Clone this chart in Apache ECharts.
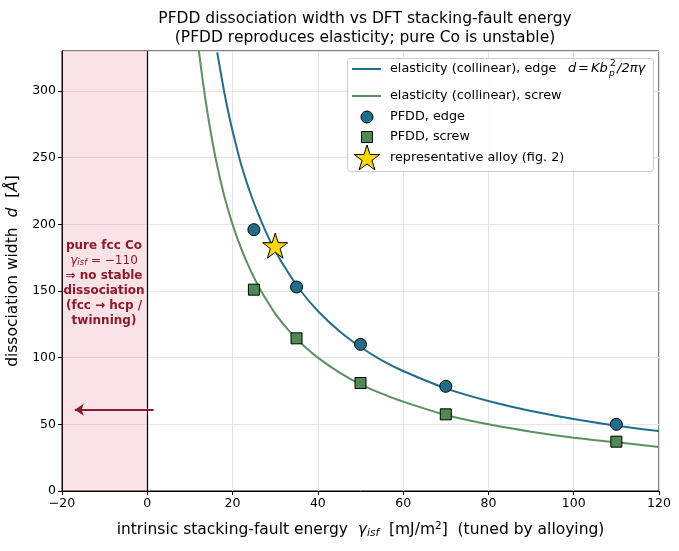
<!DOCTYPE html>
<html>
<head>
<meta charset="utf-8">
<script src="https://cdn.jsdelivr.net/npm/echarts@6/dist/echarts.min.js"></script>
<style>
  html, body { margin: 0; padding: 0; background: #fff; }
  #main { width: 679px; height: 551px; }
</style>
</head>
<body>
<div id="main"></div>
<script>
// elasticity curves
const edgeGamma = [16.4, 17, 18, 19, 20, 22, 24, 26, 28, 30, 33, 36, 40, 45, 50, 55, 60, 70, 80, 90, 100, 110, 120];
const edgeD = [329, 318, 300, 284, 270, 245, 225, 208, 193, 180, 164, 150, 135, 120, 108, 98, 90, 77, 67.5, 60, 54, 49, 45];
const screwGamma = [12.1, 13, 14, 15, 16, 18, 20, 22, 24, 26, 28, 30, 33, 36, 40, 45, 50, 55, 60, 70, 80, 90, 100, 110, 120];
const screwD = [330, 308, 286, 267, 250, 222, 200, 182, 167, 154, 143, 133, 121, 111, 100, 89, 80, 73, 67, 57, 50, 44.5, 40, 36.5, 33];

// PFDD points
const pfddGamma = [25, 35, 50, 70, 110];
const pfddEdge = [196, 153, 110, 78.5, 50];
const pfddScrew = [151, 114.5, 81, 57.5, 37];

// representative alloy
const alloyPoint = [30, 184];

// unstable region / arrow
const unstableRange = [-20, 0];
const arrowFrom = [1.5, 61];
const arrowTo = [-17, 61];

const xTicks = { min: -20, max: 120, step: 20 };
const yTicks = { min: 0, max: 330, step: 50 };

const C_EDGE = '#1f6e8c';
const C_SCREW = '#5b9160';
const C_SQ = '#4f8a55';
const C_RED = '#8b1a2c';
const FONT = 'DejaVu Sans';
const LEG_FONT = '12.8px "DejaVu Sans"';

const STAR = 'path://M50,0 L61.8,35.4 L99,35.4 L69.1,57.3 L80.4,92.7 L50,70.8 L19.6,92.7 L30.9,57.3 L1,35.4 L38.2,35.4 Z';
const STAR_PTS = [[50, 0], [61.8, 35.4], [99, 35.4], [69.1, 57.3], [80.4, 92.7], [50, 70.8], [19.6, 92.7], [30.9, 57.3], [1, 35.4], [38.2, 35.4]];

function zip(a, b) {
    return a.map(function(v, i) { return [v, b[i]]; });
}

// 图例里的星形
function legendStar(x, y, w, h) {
    return STAR_PTS.map(function(p) { return [x + p[0] * w / 100, y + p[1] * h / 93]; });
}

// 图例文字
function legText(x, y, text, font) {
    return { type: 'text', x: x, y: y, z: 101, style: { text: text, font: font || LEG_FONT, fill: '#000', verticalAlign: 'middle' } };
}

const chart = echarts.init(document.getElementById('main'));

const option = {
    animation: false,
    backgroundColor: '#fff',
    textStyle: { fontFamily: FONT },
    title: {
        text: 'PFDD dissociation width vs DFT stacking-fault energy\n(PFDD reproduces elasticity; pure Co is unstable)',
        left: 360,
        top: 4,
        textAlign: 'center',
        textStyle: { fontFamily: FONT, fontSize: 15.5, fontWeight: 'normal', color: '#000', lineHeight: 19 }
    },
    grid: {
        left: 62, right: 20, top: 51, bottom: 60,
        containLabel: false, outerBoundsMode: 'none',
        show: true, borderColor: '#000', borderWidth: 1, backgroundColor: 'transparent'
    },
    xAxis: {
        type: 'value',
        min: xTicks.min, max: xTicks.max, interval: xTicks.step,
        name: 'intrinsic stacking-fault energy  {i|γ}{s|isf}  [mJ/m{u|2}]  (tuned by alloying)',
        nameLocation: 'middle',
        nameGap: 30,
        nameTextStyle: {
            fontFamily: FONT, fontSize: 15.5, color: '#000',
            rich: {
                i: { fontFamily: FONT, fontSize: 15.5, fontStyle: 'italic', color: '#000' },
                s: { fontFamily: FONT, fontSize: 10.5, fontStyle: 'italic', color: '#000', padding: [7, 0, 0, 0] },
                u: { fontFamily: FONT, fontSize: 10.5, color: '#000', padding: [0, 0, 7, 0] }
            }
        },
        axisLine: { show: true, onZero: false, lineStyle: { color: '#000', width: 1 } },
        axisTick: { show: true, length: 4, lineStyle: { color: '#000' } },
        axisLabel: {
            fontFamily: FONT, fontSize: 12.5, color: '#000', margin: 6,
            formatter: function(v) { return String(v).replace('-', '\u2212'); }
        },
        splitLine: { show: true, lineStyle: { color: '#e5e5e5', width: 1 } }
    },
    yAxis: {
        type: 'value',
        min: yTicks.min, max: yTicks.max, interval: yTicks.step,
        name: 'dissociation width  {i|d}  [{i|Å}]',
        nameLocation: 'middle',
        nameGap: 40,
        nameTextStyle: {
            fontFamily: FONT, fontSize: 15.5, color: '#000',
            rich: { i: { fontFamily: FONT, fontSize: 15.5, fontStyle: 'italic', color: '#000' } }
        },
        axisLine: { show: true, onZero: false, lineStyle: { color: '#000', width: 1 } },
        axisTick: { show: true, length: 4, lineStyle: { color: '#000' } },
        axisLabel: {
            fontFamily: FONT, fontSize: 12.5, color: '#000', margin: 6,
            showMaxLabel: false,
            formatter: function(v) { return v % 50 === 0 ? String(v) : ''; }
        },
        splitLine: { show: true, lineStyle: { color: '#e5e5e5', width: 1 } }
    },
    series: [
        {
            // unstable region, vertical line at 0, arrow
            type: 'line',
            data: [],
            silent: true,
            markArea: {
                silent: true,
                itemStyle: { color: 'rgba(215, 60, 85, 0.14)' },
                data: [[{ xAxis: unstableRange[0] }, { xAxis: unstableRange[1] }]]
            },
            markLine: {
                silent: true,
                symbol: ['none', 'none'],
                label: { show: false },
                data: [
                    [{ coord: [0, yTicks.min], lineStyle: { color: '#000', width: 1.2, type: 'solid' } },
                     { coord: [0, yTicks.max] }],
                    [{ coord: arrowFrom, symbol: 'none', lineStyle: { color: C_RED, width: 2, type: 'solid' } },
                     { coord: arrowTo, symbol: 'arrow', symbolSize: [9, 9] }]
                ]
            }
        },
        {
            name: 'elasticity (collinear), edge',
            type: 'line',
            data: zip(edgeGamma, edgeD),
            smooth: 0.3,
            symbol: 'none',
            lineStyle: { color: C_EDGE, width: 2 },
            clip: true,
            z: 3
        },
        {
            name: 'elasticity (collinear), screw',
            type: 'line',
            data: zip(screwGamma, screwD),
            smooth: 0.3,
            symbol: 'none',
            lineStyle: { color: C_SCREW, width: 2 },
            clip: true,
            z: 3
        },
        {
            name: 'PFDD, edge',
            type: 'scatter',
            data: zip(pfddGamma, pfddEdge),
            symbol: 'circle',
            symbolSize: 12,
            itemStyle: { color: C_EDGE, borderColor: '#000', borderWidth: 1, opacity: 1 },
            z: 5
        },
        {
            name: 'PFDD, screw',
            type: 'scatter',
            data: zip(pfddGamma, pfddScrew),
            symbol: 'rect',
            symbolSize: 11,
            itemStyle: { color: C_SQ, borderColor: '#000', borderWidth: 1, opacity: 1 },
            z: 5
        },
        {
            name: 'representative alloy (fig. 2)',
            type: 'scatter',
            data: [alloyPoint],
            symbol: STAR,
            symbolSize: 25,
            itemStyle: { color: '#ffd700', borderColor: '#000', borderWidth: 1, opacity: 1 },
            z: 6
        }
    ],
    graphic: [
        // annotation in the unstable region
        {
            type: 'text',
            x: 104, y: 238,
            z: 20,
            style: {
                text: '{b|pure fcc Co}\n{g|γ}{s|isf}{n| = −110}\n{b|⇒ no stable}\n{b|dissociation}\n{b|(fcc → hcp /}\n{b|twinning)}',
                align: 'center',
                fill: C_RED,
                font: 'bold 12px "DejaVu Sans"',
                lineHeight: 15,
                rich: {
                    b: { fontFamily: FONT, fontSize: 12, fontWeight: 'bold', fill: C_RED, lineHeight: 15 },
                    g: { fontFamily: FONT, fontSize: 12, fontStyle: 'italic', fill: C_RED, lineHeight: 15 },
                    s: { fontFamily: FONT, fontSize: 8.5, fontStyle: 'italic', fill: C_RED, lineHeight: 15, padding: [4, 0, 0, 0] },
                    n: { fontFamily: FONT, fontSize: 12, fill: C_RED, lineHeight: 15 }
                }
            }
        },
        // legend
        { type: 'rect', z: 100, shape: { x: 347.5, y: 58.5, width: 306, height: 113, r: 3 },
          style: { fill: 'rgba(255,255,255,0.9)', stroke: '#cccccc', lineWidth: 1 } },
        { type: 'line', z: 101, shape: { x1: 352, y1: 69, x2: 381, y2: 69 }, style: { stroke: C_EDGE, lineWidth: 2 } },
        legText(390, 69, 'elasticity (collinear), edge'),
        legText(568, 69, 'd', 'italic 13px "DejaVu Sans"'),
        legText(578, 69, '=', '13px "DejaVu Sans"'),
        legText(591, 69, 'Kb', 'italic 13px "DejaVu Sans"'),
        legText(610, 64, '2', '9px "DejaVu Sans"'),
        legText(609, 74, 'p', 'italic 9px "DejaVu Sans"'),
        legText(617, 69, '/2πγ', 'italic 13px "DejaVu Sans"'),
        { type: 'line', z: 101, shape: { x1: 352, y1: 96, x2: 381, y2: 96 }, style: { stroke: C_SCREW, lineWidth: 2 } },
        legText(390, 96, 'elasticity (collinear), screw'),
        { type: 'circle', z: 101, shape: { cx: 367, cy: 117, r: 6 }, style: { fill: C_EDGE, stroke: '#000', lineWidth: 1 } },
        legText(390, 117, 'PFDD, edge'),
        { type: 'rect', z: 101, shape: { x: 361.5, y: 131.5, width: 11, height: 11 }, style: { fill: C_SQ, stroke: '#000', lineWidth: 1 } },
        legText(390, 137, 'PFDD, screw'),
        { type: 'polygon', z: 101, shape: { points: legendStar(354, 145, 26, 25) },
          style: { fill: '#ffd700', stroke: '#000', lineWidth: 1 } },
        legText(390, 158, 'representative alloy (fig. 2)')
    ]
};

chart.setOption(option);
</script>
</body>
</html>
